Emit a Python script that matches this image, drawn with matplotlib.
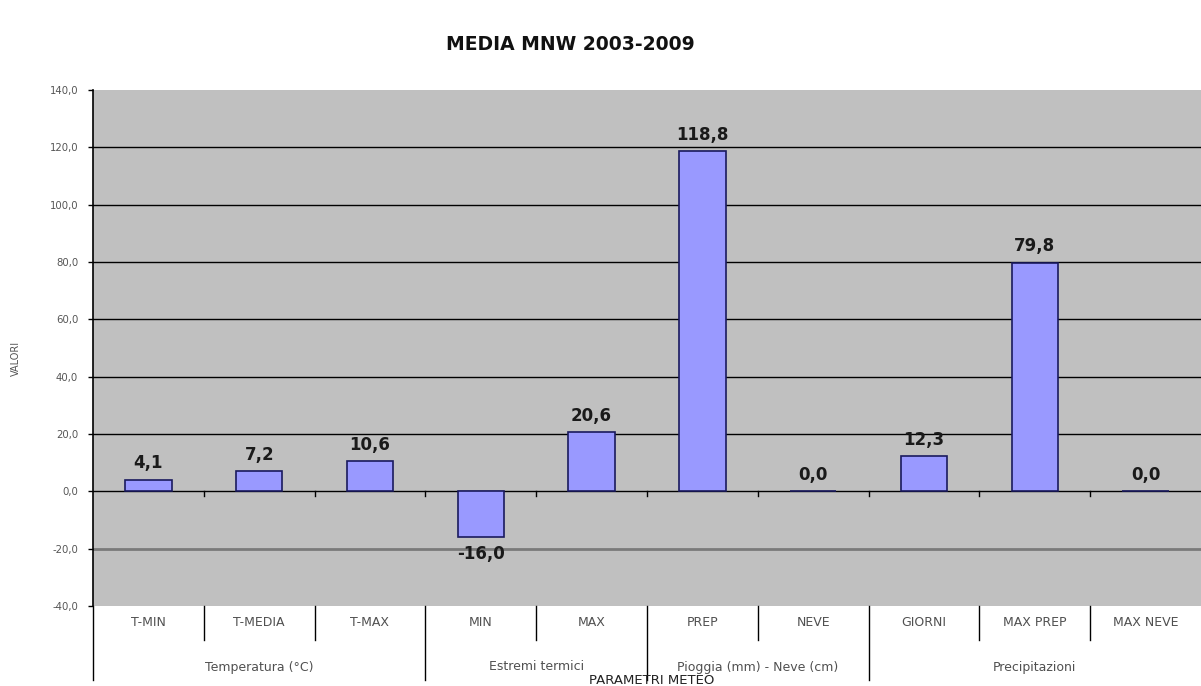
import matplotlib
matplotlib.use("Agg")
import matplotlib.pyplot as plt
import numpy as np

categories = ["T-MIN", "T-MEDIA", "T-MAX", "MIN", "MAX", "PREP", "NEVE",
              "GIORNI", "MAX PREP", "MAX NEVE"]
values = [4.1, 7.2, 10.6, -16.0, 20.6, 118.8, 0.0, 12.3, 79.8, 0.0]
groups = ["Temperatura (°C)", "Estremi termici", "Pioggia (mm) - Neve (cm)", "Precipitazioni"]
group_sizes = [3, 2, 2, 3]
yticks = [-40, -20, 0, 20, 40, 60, 80, 100, 120, 140]

plt.rcParams['font.family'] = ['DejaVu Sans']

W, H = 1201, 686
fig = plt.figure(figsize=(W / 100, H / 100), dpi=100)
fig.patch.set_facecolor("white")
ax = fig.add_axes([93 / W, (H - 606) / H, (W - 93) / W, 516 / H])
ax.set_facecolor("#c0c0c0")

n = len(categories)
x = np.arange(n)
ax.set_xlim(-0.5, n - 0.5)
ax.set_ylim(-40, 140)

# gridlines
for t in yticks[1:-1]:
    col = "#7a7a7a" if t < 0 else "black"
    lw = 2.0 if t < 0 else 1.0
    ax.axhline(t, color=col, lw=lw, zorder=1)

ax.bar(x, values, width=0.42, color="#9999ff", edgecolor="#1a1a5e", linewidth=1.2, zorder=3)

for xi, v in zip(x, values):
    lab = f"{v:.1f}".replace(".", ",")
    if v < 0:
        ax.text(xi, v - 2.8, lab, ha="center", va="top", fontsize=12, fontweight="bold", color="#1a1a1a", zorder=4)
    else:
        ax.text(xi, v + 2.5, lab, ha="center", va="bottom", fontsize=12, fontweight="bold", color="#1a1a1a", zorder=4)

# small ticks on zero line at category boundaries
for b in np.arange(0.5, n - 0.5, 1.0):
    ax.plot([b, b], [0, -1.5], color="black", lw=1, zorder=4)

ax.set_yticks(yticks)
ax.set_yticklabels([f"{t:.1f}".replace(".", ",") for t in yticks], fontsize=7.3, color="#555555")
ax.tick_params(axis="y", length=3.6, width=1, color="black", pad=7)
ax.set_xticks([])
for s in ["top", "right", "bottom"]:
    ax.spines[s].set_visible(False)
ax.spines["left"].set_color("black")
ax.spines["left"].set_linewidth(1.2)

fig.text(16 / W, 1 - 358 / H, "VALORI", rotation=90, ha="center", va="center", fontsize=7, color="#555555")

# category table below axes
trans = ax.get_xaxis_transform()
short = -(640 - 606) / 516
long_ = -(680 - 606) / 516
for i, c in enumerate(categories):
    ax.text(i, -(622 - 606) / 516, c, transform=trans, ha="center", va="center",
            fontsize=9, color="#505050", clip_on=False)
bounds = np.cumsum([0] + group_sizes)
for b in np.arange(0.5, n - 0.5, 1.0):
    if (b + 0.5) in bounds:
        continue
    ax.plot([b, b], [0, short], transform=trans, color="black", lw=1, clip_on=False)
for b in bounds[:-1]:
    ax.plot([b - 0.5, b - 0.5], [0, long_], transform=trans, color="black", lw=1, clip_on=False)
for g, s0, s1 in zip(groups, bounds[:-1], bounds[1:]):
    ax.text((s0 + s1 - 1) / 2, -(667 - 606) / 516, g, transform=trans, ha="center", va="center",
            fontsize=9, color="#505050", clip_on=False)

fig.text(652 / W, 1 - 680 / H, "PARAMETRI METEO", ha="center", va="center", fontsize=9.5, color="#222222")
fig.text(570 / W, 1 - 45 / H, "MEDIA MNW 2003-2009", ha="center", va="center", fontsize=13.5, fontweight="bold", color="#111111")

fig.savefig("out.png", dpi=100)
